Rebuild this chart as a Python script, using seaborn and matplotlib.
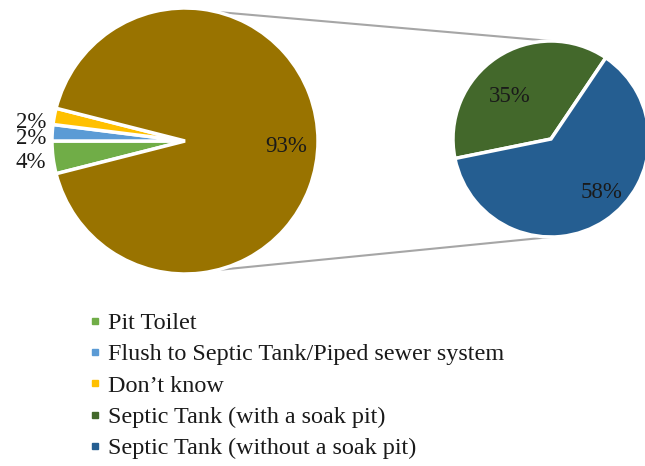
import numpy as np
import matplotlib.pyplot as plt
import seaborn as sns
from matplotlib.lines import Line2D

# data (percent of households)
main_labels = ["Pit Toilet", "Flush to Septic Tank/Piped sewer system", "Don\u2019t know", "Septic Tank"]
main_values = [4, 2, 2, 93]
main_colors = ["#70AD47", "#5B9BD5", "#FFC000", "#997300"]

sub_labels = ["Septic Tank (with a soak pit)", "Septic Tank (without a soak pit)"]
sub_values = [35, 58]
sub_colors = ["#43682B", "#255E91"]

sns.set_theme(style="white")
plt.rcParams['font.family'] = ['Liberation Serif', 'DejaVu Serif']

W, H = 645, 466
fig = plt.figure(figsize=(W / 100, H / 100), dpi=100)
ax = fig.add_axes([0, 0, 1, 1])

# layout in pixel units (y up)
c1, r1 = (185, H - 141), 133
c2, r2 = (551, H - 139), 98

start1 = 180 + main_values[0] / sum(main_values) * 360
w1, t1 = ax.pie(main_values, colors=main_colors, center=c1, radius=r1,
                startangle=start1, counterclock=False,
                labels=[f"{v}%" for v in main_values], labeldistance=1.1,
                wedgeprops=dict(edgecolor="white", linewidth=2.5),
                textprops=dict(fontsize=16.5, color="#1a1a1a"))
w2, t2 = ax.pie(sub_values, colors=sub_colors, center=c2, radius=r2,
                startangle=56, counterclock=True,
                labels=[f"{v}%" for v in sub_values], labeldistance=0.65,
                wedgeprops=dict(edgecolor="white", linewidth=2.5),
                textprops=dict(fontsize=16.5, color="#1a1a1a"))

# label placement
small_y = [-22, 3, 18]
for t, dy in zip(t1[:3], small_y):
    t.set_position((c1[0] - 154, c1[1] + dy))
    t.set_ha("center")
    t.set_va("center")
t1[3].set_position((c1[0] + 101, c1[1] - 6))
t1[3].set_ha("center")
t1[3].set_va("center")
for t, (dx, dy) in zip(t2, [(-41, 42), (50, -53)]):
    t.set_position((c2[0] + dx, c2[1] + dy))
    t.set_ha("center")
    t.set_va("center")

# connector lines
for ang in (76, -76):
    a = np.deg2rad(ang)
    x0, y0 = c1[0] + r1 * np.cos(a), c1[1] + r1 * np.sin(a)
    x1, y1 = c2[0], c2[1] + np.sign(ang) * r2
    ax.plot([x0, x1], [y0, y1], color="#a6a6a6", lw=1.5, zorder=0)

ax.set_xlim(0, W)
ax.set_ylim(0, H)
ax.set_aspect("equal")
ax.axis("off")

handles = [Line2D([], [], marker="s", ls="none", color=c, markersize=5)
           for c in main_colors[:3] + sub_colors]
fig.legend(handles, main_labels[:3] + sub_labels, loc="upper left",
           bbox_to_anchor=(78 / W, 1 - 300 / H), frameon=False,
           fontsize=17.4, handlelength=0.4, handletextpad=0.35,
           labelspacing=0.39, borderpad=0, labelcolor="#1a1a1a")

fig.savefig("out.png", dpi=100, facecolor="white")
